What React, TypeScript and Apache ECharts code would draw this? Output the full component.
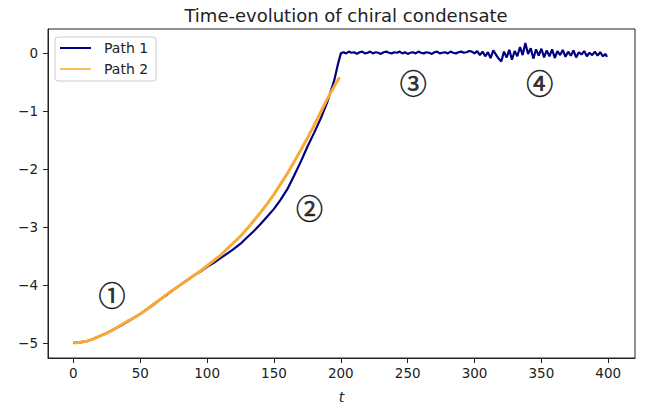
import React, { useEffect, useRef } from "react";
import * as echarts from "echarts";

// Path 1 (navy): rising branch, then plateau noise
const path1RiseT = [0, 5, 10, 15, 20, 25, 30, 35, 40, 45, 50, 55, 60, 65, 70, 75, 80, 85, 90, 95, 100, 105, 110, 115, 120, 125, 130, 135, 140, 145, 150, 155, 160, 165, 170, 175, 180, 185, 190, 195, 198, 200];
const path1RiseV = [-5.0, -4.99, -4.97, -4.93, -4.88, -4.83, -4.77, -4.71, -4.64, -4.57, -4.5, -4.42, -4.34, -4.25, -4.17, -4.08, -4.0, -3.92, -3.84, -3.77, -3.69, -3.62, -3.54, -3.46, -3.38, -3.29, -3.18, -3.07, -2.95, -2.82, -2.69, -2.53, -2.35, -2.12, -1.88, -1.62, -1.38, -1.13, -0.84, -0.48, -0.18, -0.01];

// plateau samples every 2 time units starting at t = 202
const plateauStart = 202;
const plateauStep = 2;
const path1PlateauV = [
  0.01, -0.01, 0.02, 0.0, 0.01, -0.02, 0.01, 0.02, -0.01, 0.0,
  0.02, -0.01, 0.01, 0.0, -0.02, 0.01, 0.02, 0.0, -0.01, 0.01,
  0.0, 0.02, -0.01, 0.01, -0.02, 0.0, 0.01, -0.01, 0.02, 0.0,
  -0.01, 0.01, 0.0, -0.02, 0.01, 0.02, -0.01, 0.0, 0.01, -0.01,
  0.02, 0.0, -0.01, 0.01, 0.02, 0.0, 0.01, 0.03, 0.02, -0.01,
  0.03, -0.04, 0.02, -0.06, 0.01, -0.09, 0.04, -0.03, -0.1, -0.15,
  0.02, -0.08, 0.05, -0.12, 0.03, -0.06, 0.1, -0.04, 0.17, -0.02,
  0.08, -0.1, 0.06, -0.05, 0.07, -0.08, 0.04, -0.06, 0.06, -0.09,
  0.03, -0.04, 0.05, -0.07, 0.02, -0.05, 0.04, -0.08, 0.01, -0.03,
  0.03, -0.06, 0.0, -0.04, 0.02, -0.05, 0.01, -0.06, -0.02,
];
const path1EndT = 399;
const path1EndV = -0.07;

// Path 2 (orange)
const path2T = [0, 5, 10, 15, 20, 25, 30, 35, 40, 45, 50, 55, 60, 65, 70, 75, 80, 85, 90, 95, 100, 105, 110, 115, 120, 125, 130, 135, 140, 145, 150, 155, 160, 165, 170, 175, 180, 185, 190, 195, 199];
const path2V = [-5.0, -4.99, -4.97, -4.93, -4.88, -4.83, -4.77, -4.7, -4.63, -4.57, -4.5, -4.42, -4.33, -4.25, -4.16, -4.08, -4.0, -3.92, -3.84, -3.76, -3.67, -3.58, -3.49, -3.38, -3.27, -3.16, -3.03, -2.89, -2.75, -2.6, -2.44, -2.26, -2.08, -1.88, -1.68, -1.47, -1.25, -1.02, -0.79, -0.58, -0.42];

const xTicks = [0, 50, 100, 150, 200, 250, 300, 350, 400];
const yTicks = [-5, -4, -3, -2, -1, 0];

const annotations = [
  { t: 28.9, v: -4.17, label: "①" },
  { t: 176.5, v: -2.67, label: "②" },
  { t: 254.1, v: -0.52, label: "③" },
  { t: 348.8, v: -0.52, label: "④" },
];

const fmt = (v: number) => String(v).replace("-", "\u2212");

export default function App() {
  const ref = useRef<HTMLDivElement>(null);
  useEffect(() => {
    if (!ref.current) return;
    const chart = echarts.init(ref.current, undefined, { renderer: "svg" });
    const path1: number[][] = path1RiseT.map((t, i) => [t, path1RiseV[i]]);
    path1PlateauV.forEach((v, i) => path1.push([plateauStart + plateauStep * i, v]));
    path1.push([path1EndT, path1EndV]);
    const path2 = path2T.map((t, i) => [t, path2V[i]]);
    const font = "DejaVu Sans";
    const navy = "#000080";
    const orange = "#F7AA38";
    chart.setOption({
      animation: false,
      backgroundColor: "#fff",
      title: {
        text: "Time-evolution of chiral condensate",
        left: 341,
        textAlign: "center",
        top: 1,
        textStyle: { fontFamily: font, fontSize: 18, fontWeight: "normal", color: "#222" },
      },
      grid: {
        left: 48,
        top: 29,
        right: 22,
        bottom: 50,
        show: true,
        borderColor: "#222",
        borderWidth: 1,
        backgroundColor: "transparent",
      },
      legend: {
        orient: "vertical",
        left: 55,
        top: 37,
        padding: [4, 8, 5, 5],
        itemGap: 7,
        itemWidth: 31,
        itemHeight: 2,
        backgroundColor: "rgba(255,255,255,0.8)",
        borderColor: "#ccc",
        borderWidth: 1,
        borderRadius: 3,
        textStyle: { fontFamily: font, fontSize: 14, color: "#222", padding: [0, 0, 0, 8] },
        data: [
          { name: "Path 1", icon: "rect", itemStyle: { color: navy } },
          { name: "Path 2", icon: "rect", itemStyle: { color: "#FBBE5C" } },
        ],
      },
      xAxis: {
        type: "value",
        min: -19,
        max: 420,
        name: "t",
        nameLocation: "middle",
        nameGap: 32,
        nameTextStyle: { fontFamily: font, fontSize: 14, fontStyle: "italic", color: "#222" },
        splitLine: { show: false },
        axisLine: { show: true, onZero: false, lineStyle: { color: "#222", width: 1 } },
        axisTick: { show: true, length: 5, customValues: xTicks, lineStyle: { color: "#222" } },
        axisLabel: {
          customValues: xTicks,
          margin: 8,
          fontFamily: font,
          fontSize: 13.5,
          color: "#222",
          formatter: (v: number) => fmt(v),
        },
      },
      yAxis: {
        type: "value",
        min: -5.26,
        max: 0.41,
        splitLine: { show: false },
        axisLine: { show: true, onZero: false, lineStyle: { color: "#222", width: 1 } },
        axisTick: { show: true, length: 5, customValues: yTicks, lineStyle: { color: "#222" } },
        axisLabel: {
          customValues: yTicks,
          margin: 10,
          fontFamily: font,
          fontSize: 13.5,
          color: "#222",
          formatter: (v: number) => fmt(v),
        },
      },
      series: [
        {
          name: "Path 1",
          type: "line",
          data: path1,
          showSymbol: false,
          symbol: "none",
          color: navy,
          lineStyle: { color: navy, width: 2.2 },
          z: 2,
        },
        {
          name: "Path 2",
          type: "line",
          data: path2,
          showSymbol: false,
          symbol: "none",
          color: orange,
          lineStyle: { color: orange, width: 3 },
          z: 3,
        },
        {
          name: "annotations",
          type: "scatter",
          symbolSize: 0,
          silent: true,
          data: annotations.map((a) => ({ value: [a.t, a.v], name: a.label })),
          label: {
            show: true,
            position: "inside",
            formatter: (p: any) => p.name,
            fontFamily: "Noto Sans CJK JP",
            fontWeight: "normal",
            fontSize: 27,
            color: "#000",
            textBorderColor: "#000",
            textBorderWidth: 0.6,
          },
          z: 4,
        },
      ],
    });
    return () => chart.dispose();
  }, []);
  return <div ref={ref} style={{ width: 657, height: 409, position: "absolute", left: 0, top: 0 }} />;
}
